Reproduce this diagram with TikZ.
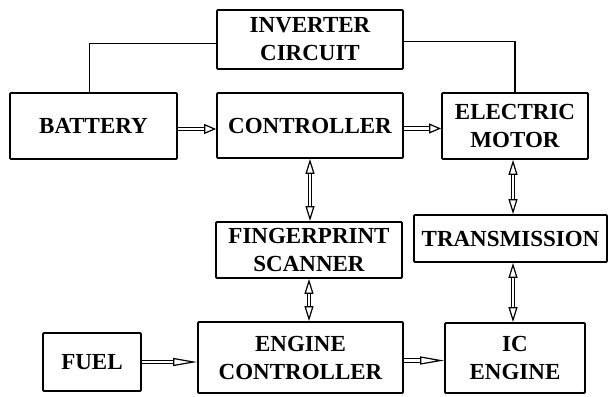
\documentclass[tikz,border=0pt]{standalone}
\usepackage{fontspec}
\setmainfont{Liberation Serif}
\usetikzlibrary{arrows.meta}
\begin{document}
\begin{tikzpicture}[x=1pt,y=-1pt,
  blk/.style={draw,line width=1.8pt,rounded corners=1pt,align=center,inner sep=0pt,
    font=\fontsize{23}{28}\selectfont\bfseries},
  dbl/.style={double,line width=1.2pt,double distance=2.2pt},
  hd/.tip={Triangle[open,length=12pt,width=10pt,line width=1.2pt]},
  vhd/.tip={Triangle[open,length=15pt,width=9pt,line width=1.2pt]},
  lhd/.tip={Triangle[open,length=24pt,width=8pt,line width=1.2pt]}]
\useasboundingbox (0,0) rectangle (609,396);

% Blocks
\node[blk,minimum width=186,minimum height=59] (inv) at (310,39.5) {INVERTER\\CIRCUIT};
\node[blk,minimum width=167,minimum height=66] (bat) at (93.5,126) {BATTERY};
\node[blk,minimum width=186,minimum height=65] (ctrl) at (310,125.5) {CONTROLLER};
\node[blk,minimum width=146,minimum height=66] (mot) at (515,126) {ELECTRIC\\MOTOR};
\node[blk,minimum width=186,minimum height=56] (fps) at (309,250) {FINGERPRINT\\SCANNER};
\node[blk,minimum width=193,minimum height=47] (trans) at (510.5,238.5) {TRANSMISSION};
\node[blk,minimum width=98,minimum height=58] (fuel) at (92,362) {FUEL};
\node[blk,minimum width=205,minimum height=71] (ectrl) at (300.5,357.5) {ENGINE\\CONTROLLER};
\node[blk,minimum width=140,minimum height=70] (ice) at (515,358) {IC\\ENGINE};

% Inverter links
\draw[line width=1.8pt] ([yshift=-4]inv.west) -| ([xshift=-4]bat.north);
\draw[line width=1.8pt] ([yshift=-2]inv.east) -| (mot.north);

% Power flow
\draw[dbl,-hd] ([yshift=-3]bat.east) -- ([yshift=-3]bat.east -| ctrl.west);
\draw[dbl,-hd] ([yshift=-3]ctrl.east) -- ([yshift=-3]ctrl.east -| mot.west);
\draw[dbl,vhd-vhd] (ctrl.south) -- (ctrl.south |- fps.north);
\draw[dbl,vhd-vhd] (fps.south) -- (fps.south |- ectrl.north);
\draw[dbl,vhd-vhd] ([xshift=-2]mot.south) -- ([xshift=-2]mot.south |- trans.north);
\draw[dbl,vhd-vhd] ([xshift=-2]ice.north |- trans.south) -- ([xshift=-2]ice.north);
\draw[dbl,-lhd] (fuel.east) -- (fuel.east -| ectrl.west);
\draw[dbl,-lhd] ([yshift=-3]ectrl.east) -- ([yshift=-3]ectrl.east -| ice.west);
\end{tikzpicture}
\end{document}
